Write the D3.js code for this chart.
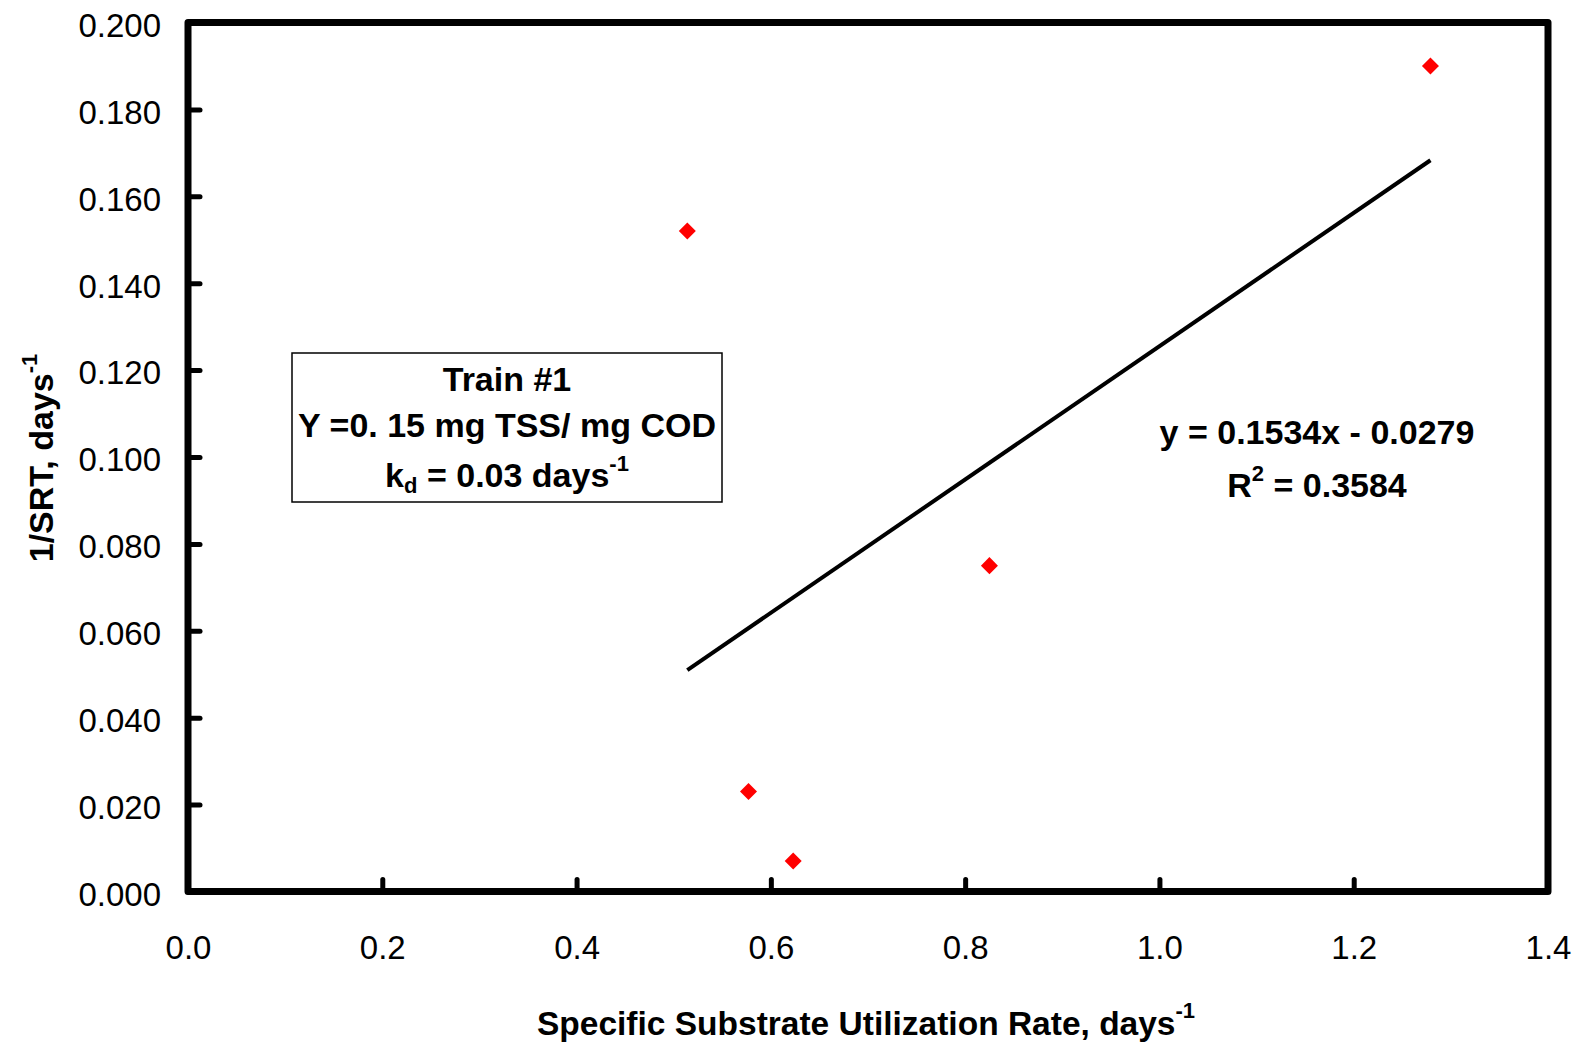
<!DOCTYPE html>
<html>
<head>
<meta charset="utf-8">
<script src="https://cdn.jsdelivr.net/npm/d3@7/dist/d3.min.js"></script>
<style>
  html, body { margin: 0; padding: 0; background: #fff; }
  svg { display: block; font-family: "Liberation Sans", Arial, sans-serif; }
</style>
</head>
<body>
<svg id="chart" width="1581" height="1042"></svg>
<script>
// Specific substrate utilization rate (days^-1) vs 1/SRT (days^-1), Train #1
const sutr = [0.514, 0.577, 0.623, 0.825, 1.279];
const invSrt = [0.152, 0.023, 0.007, 0.075, 0.190];

// Linear trendline reported on the chart
const slope = 0.1534;
const intercept = -0.0279;
const rSquared = 0.3584;

const xTicks = [0.0, 0.2, 0.4, 0.6, 0.8, 1.0, 1.2, 1.4];
const yTicks = [0.000, 0.020, 0.040, 0.060, 0.080, 0.100, 0.120, 0.140, 0.160, 0.180, 0.200];

const margin = { left: 188, right: 1548, top: 22.5, bottom: 891.5 };

const svg = d3.select("#chart");

const x = d3.scaleLinear().domain([0, 1.4]).range([margin.left, margin.right]);
const y = d3.scaleLinear().domain([0, 0.2]).range([margin.bottom, margin.top]);

// Y axis: ticks point inward, labels on the left
const yAxis = svg.append("g")
  .attr("transform", `translate(${margin.left},0)`)
  .call(d3.axisLeft(y).tickValues(yTicks).tickFormat(d3.format(".3f")).tickSize(-12).tickPadding(27));
yAxis.select(".domain").remove();
yAxis.selectAll(".tick line")
  .attr("stroke", "#000").attr("stroke-width", 5).attr("stroke-linecap", "round");
yAxis.selectAll(".tick text")
  .attr("font-size", 33).attr("fill", "#000").attr("dy", "0.42em")
  .attr("font-family", "Liberation Sans, Arial, sans-serif");

// X axis: ticks point up into the plot, labels below
const xAxis = svg.append("g")
  .attr("transform", `translate(0,${margin.bottom})`)
  .call(d3.axisBottom(x).tickValues(xTicks).tickFormat(d3.format(".1f")).tickSize(-12).tickPadding(44));
xAxis.select(".domain").remove();
xAxis.selectAll(".tick line")
  .attr("stroke", "#000").attr("stroke-width", 5).attr("stroke-linecap", "round");
xAxis.selectAll(".tick text")
  .attr("font-size", 33).attr("fill", "#000")
  .attr("font-family", "Liberation Sans, Arial, sans-serif");

// Plot frame
svg.append("rect")
  .attr("x", margin.left).attr("y", margin.top)
  .attr("width", margin.right - margin.left).attr("height", margin.bottom - margin.top)
  .attr("fill", "none").attr("stroke", "#000").attr("stroke-width", 7)
  .attr("stroke-linejoin", "round");

// Trendline across the range of the data
const xMin = d3.min(sutr), xMax = d3.max(sutr);
svg.append("line")
  .attr("x1", x(xMin)).attr("y1", y(slope * xMin + intercept))
  .attr("x2", x(xMax)).attr("y2", y(slope * xMax + intercept))
  .attr("stroke", "#000").attr("stroke-width", 4);

// Data markers (red diamonds)
const diamond = d3.symbol().type(d3.symbolSquare).size(145);
svg.append("g").selectAll("path")
  .data(sutr.map((v, i) => [v, invSrt[i]]))
  .join("path")
  .attr("d", diamond)
  .attr("transform", d => `translate(${x(d[0])},${y(d[1])}) rotate(45)`)
  .attr("fill", "#ff0000");

// Annotation box
svg.append("rect")
  .attr("x", 292).attr("y", 353).attr("width", 430).attr("height", 149)
  .attr("fill", "#fff").attr("stroke", "#000").attr("stroke-width", 1.5);

const box = svg.append("g").attr("font-weight", "bold").attr("font-size", 34)
  .attr("text-anchor", "middle").attr("fill", "#000");
box.append("text").attr("x", 507).attr("y", 391).text("Train #1");
box.append("text").attr("x", 507).attr("y", 437).text("Y =0. 15 mg TSS/ mg COD");
const kd = box.append("text").attr("x", 507).attr("y", 487);
kd.append("tspan").text("k");
kd.append("tspan").attr("font-size", 22).attr("dy", 6).text("d");
kd.append("tspan").attr("dy", -6).text(" = 0.03 days");
kd.append("tspan").attr("font-size", 22).attr("dy", -16).text("-1");

// Trendline equation
const eq = svg.append("g").attr("font-weight", "bold").attr("font-size", 34)
  .attr("text-anchor", "middle").attr("fill", "#000");
eq.append("text").attr("x", 1317).attr("y", 444)
  .text(`y = ${slope.toFixed(4)}x - ${Math.abs(intercept).toFixed(4)}`);
const r2 = eq.append("text").attr("x", 1317).attr("y", 497);
r2.append("tspan").text("R");
r2.append("tspan").attr("font-size", 22).attr("dy", -16).text("2");
r2.append("tspan").attr("dy", 16).text(` = ${rSquared.toFixed(4)}`);

// Axis titles
const xt = svg.append("text").attr("x", 866).attr("y", 1035)
  .attr("text-anchor", "middle").attr("font-weight", "bold").attr("font-size", 33.5).attr("fill", "#000");
xt.append("tspan").text("Specific Substrate Utilization Rate, days");
xt.append("tspan").attr("font-size", 22).attr("dy", -17).text("-1");

const yt = svg.append("text").attr("transform", "translate(53,458) rotate(-90)")
  .attr("text-anchor", "middle").attr("font-weight", "bold").attr("font-size", 34).attr("fill", "#000");
yt.append("tspan").text("1/SRT, days");
yt.append("tspan").attr("font-size", 22).attr("dy", -16).text("-1");
</script>
</body>
</html>
